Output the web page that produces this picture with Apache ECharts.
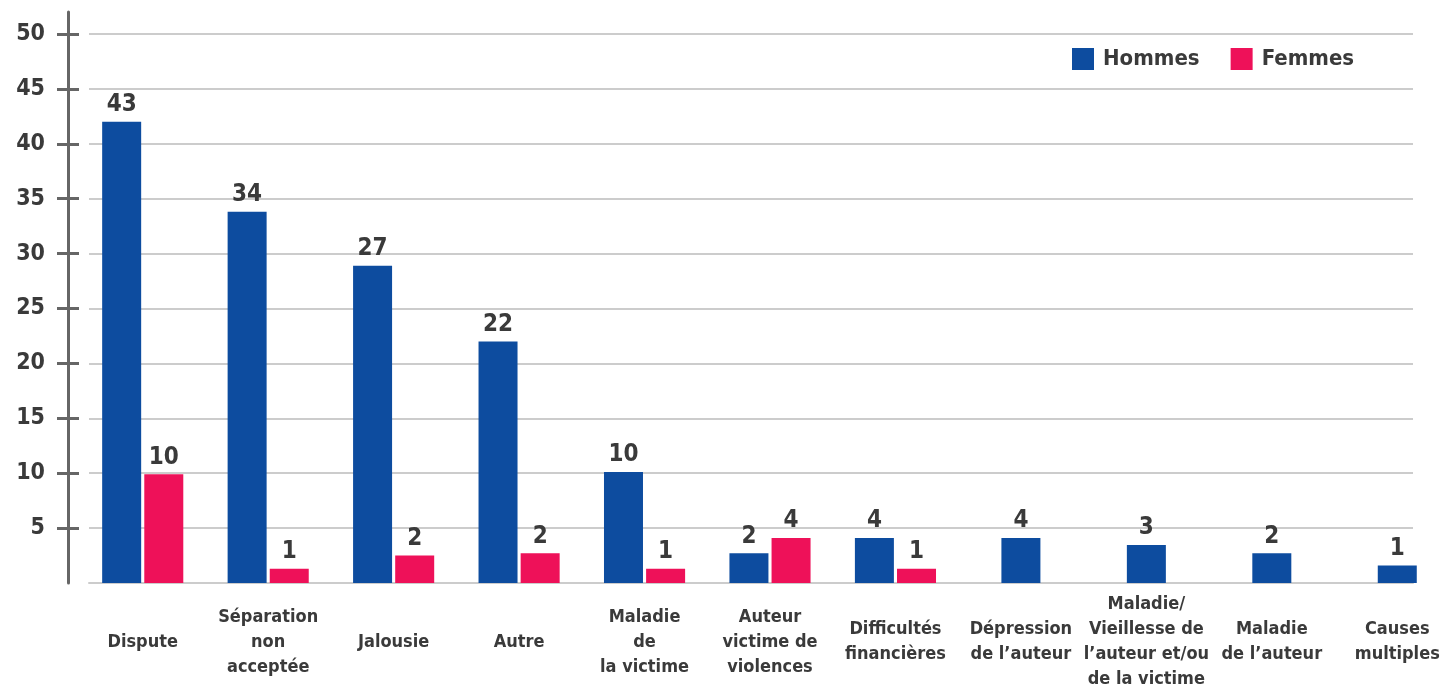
<!DOCTYPE html>
<html>
<head>
<meta charset="utf-8">
<script src="https://cdn.jsdelivr.net/npm/echarts@6/dist/echarts.min.js"></script>
<style>
html,body{margin:0;padding:0;background:#fff;}
#chart{width:1446px;height:693px;}
</style>
</head>
<body>
<div id="chart"></div>
<script>
const categories = ["Dispute", "Séparation\nnon\nacceptée", "Jalousie", "Autre", "Maladie\nde\nla victime", "Auteur\nvictime de\nviolences", "Difficultés\nfinancières", "Dépression\nde l’auteur", "Maladie/\nVieillesse de\nl’auteur et/ou\nde la victime", "Maladie\nde l’auteur", "Causes\nmultiples"];
// bar heights as drawn in the reference
const hommesPaired = [42, 33.8, 28.9, 22, 10.1, 2.7, 4.1, '-', '-', '-', '-'];
const femmes = [9.9, 1.3, 2.5, 2.7, 1.3, 4.1, 1.3, '-', '-', '-', '-'];
const hommesAlone = ['-', '-', '-', '-', '-', '-', '-', 4.1, 3.45, 2.7, 1.6];
// printed value labels
const hommesLabels = ['43', '34', '27', '22', '10', '2', '4', '4', '3', '2', '1'];
const femmesLabels = ['10', '1', '2', '2', '1', '4', '1', '', '', '', ''];
const yTicks = [5, 10, 15, 20, 25, 30, 35, 40, 45, 50];

const FONT = "'Liberation Sans Narrow', 'DejaVu Sans Condensed', 'Roboto Condensed', Roboto, 'Liberation Sans', sans-serif";
const TXT = '#3a3a3a';
const BLUE = '#0d4c9f';
const PINK = '#ee1159';

const chart = echarts.init(document.getElementById('chart'));
const valLabel = (arr) => ({
  show: true, position: 'top', distance: 5,
  fontFamily: FONT, fontWeight: 'bold', fontSize: 24, color: TXT,
  formatter: p => arr[p.dataIndex]
});
chart.setOption({
  backgroundColor: '#fff',
  animation: false,
  legend: {
    left: 1072, top: 48, padding: 0, itemWidth: 22, itemHeight: 22, itemGap: 31,
    icon: 'rect', data: ['Hommes', 'Femmes'],
    textStyle: { fontFamily: FONT, fontWeight: 'bold', fontSize: 22, color: TXT, padding: [0, 0, 0, 4] }
  },
  grid: [
    { left: 89, right: 33, top: 12, bottom: 110, outerBoundsMode: 'none' },
    { left: 80, width: 1380, top: 12, bottom: 110, outerBoundsMode: 'none' }
  ],
  xAxis: [
    { gridIndex: 0, type: 'category', data: categories,
      axisLine: { show: true, lineStyle: { color: '#cccccc', width: 2 } },
      axisTick: { show: false }, axisLabel: { show: false } },
    { gridIndex: 1, type: 'category', data: categories,
      axisLine: { show: false }, axisTick: { show: false },
      axisLabel: { interval: 0, margin: 59, verticalAlign: 'middle', fontFamily: FONT, fontWeight: 'bold',
        fontSize: 18, lineHeight: 25, color: TXT } },
    { gridIndex: 1, type: 'category', data: categories, show: false }
  ],
  yAxis: [
    { gridIndex: 0, type: 'value', min: 0, max: 52, interval: 5, position: 'left', offset: 21,
      axisLine: { show: true, lineStyle: { color: '#666', width: 3 } },
      axisTick: { show: true, length: 11, customValues: yTicks, lineStyle: { color: '#666', width: 3 } },
      axisLabel: { customValues: yTicks, margin: 23, fontFamily: FONT, fontWeight: 'bold', fontSize: 23, color: TXT },
      splitLine: { show: true, lineStyle: { color: '#bbbbbb', width: 1.5 } } },
    { gridIndex: 0, type: 'value', min: 0, max: 52, interval: 5, position: 'left', offset: 21,
      axisLine: { show: false },
      axisTick: { show: true, inside: true, length: 11, customValues: yTicks, lineStyle: { color: '#666', width: 3 } },
      axisLabel: { show: false }, splitLine: { show: false } },
    { gridIndex: 1, type: 'value', min: 0, max: 52, show: false, splitLine: { show: false } }
  ],
  series: [
    { name: 'Hommes', type: 'bar', xAxisIndex: 1, yAxisIndex: 2, data: hommesPaired, barWidth: 39, barGap: '8%',
      itemStyle: { color: BLUE }, label: valLabel(hommesLabels) },
    { name: 'Femmes', type: 'bar', xAxisIndex: 1, yAxisIndex: 2, data: femmes, barWidth: 39, barGap: '8%',
      itemStyle: { color: PINK }, label: valLabel(femmesLabels) },
    { name: 'Hommes', type: 'bar', xAxisIndex: 2, yAxisIndex: 2, data: hommesAlone, barWidth: 39,
      itemStyle: { color: BLUE }, label: valLabel(hommesLabels) }
  ]
});
</script>
</body>
</html>
